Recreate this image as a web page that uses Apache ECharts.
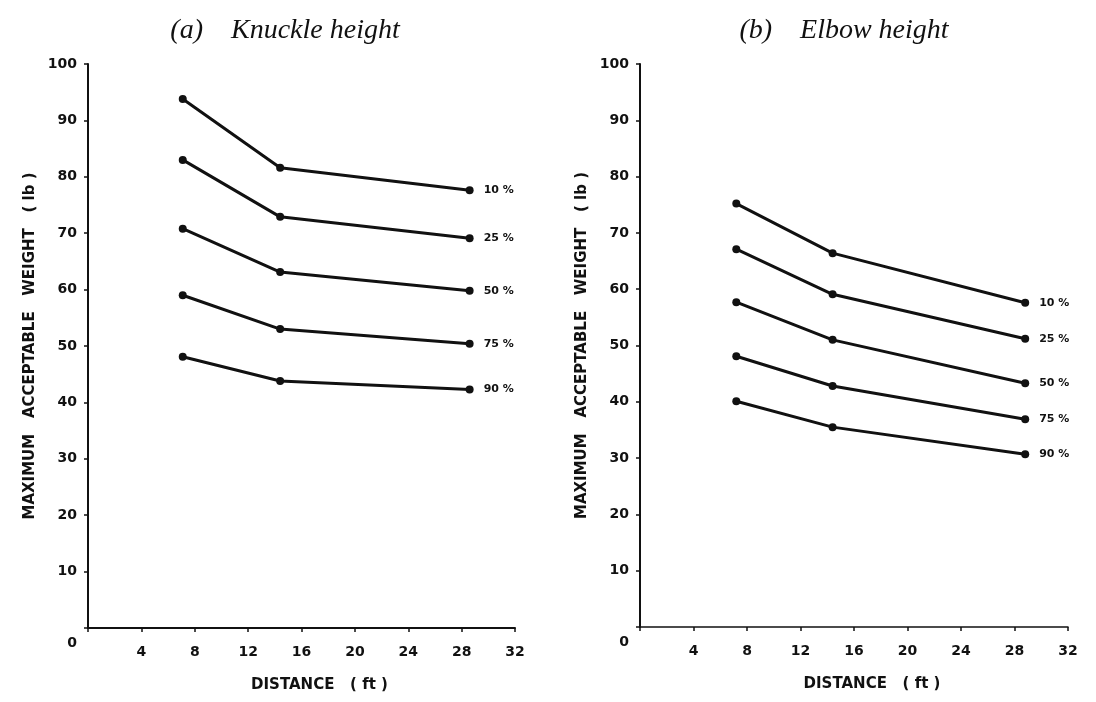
<!DOCTYPE html>
<html>
<head>
<meta charset="utf-8">
<title>Maximum acceptable weight</title>
<script src="https://cdn.jsdelivr.net/npm/echarts@6/dist/echarts.min.js"></script>
<style>
  html, body { margin: 0; padding: 0; background: #fff; }
  #chart { width: 1096px; height: 702px; }
</style>
</head>
<body>
<div id="chart"></div>
<script>
// percentile labels for each line
var percentiles = ['10 %', '25 %', '50 %', '75 %', '90 %'];

// carry distance (ft) of the three points
var distKnuckle = [7.1, 14.4, 28.6];
var distElbow = [7.2, 14.4, 28.8];

// (a) knuckle height, lb
var knuckle10 = [93.8, 81.6, 77.6];
var knuckle25 = [83.0, 72.9, 69.1];
var knuckle50 = [70.8, 63.1, 59.8];
var knuckle75 = [59.0, 53.0, 50.4];
var knuckle90 = [48.1, 43.8, 42.3];

// (b) elbow height, lb
var elbow10 = [75.2, 66.4, 57.6];
var elbow25 = [67.1, 59.1, 51.2];
var elbow50 = [57.7, 51.0, 43.3];
var elbow75 = [48.1, 42.8, 36.9];
var elbow90 = [40.1, 35.5, 30.7];

var xTicks = [0, 4, 8, 12, 16, 20, 24, 28, 32];
var yTicks = [0, 10, 20, 30, 40, 50, 60, 70, 80, 90, 100];

var font = 'DejaVu Sans';
var chart = echarts.init(document.getElementById('chart'), null, { renderer: 'canvas' });

function pairs(xs, ys) {
  return xs.map(function (x, i) { return [x, ys[i]]; });
}

function xAxisFor(idx) {
  return {
    type: 'value',
    gridIndex: idx,
    min: xTicks[0],
    max: xTicks[xTicks.length - 1],
    interval: 4,
    name: 'DISTANCE   ( ft )',
    nameLocation: 'middle',
    nameGap: 50,
    nameTextStyle: {
      fontFamily: font, fontWeight: 'bold', fontSize: 15, color: '#111',
      padding: [0, 0, 0, 36]
    },
    axisLine: { lineStyle: { color: '#111', width: idx == 0 ? 2 : 1.5 } },
    axisTick: { show: true, inside: false, length: 4, lineStyle: { color: '#111', width: 1.5 } },
    axisLabel: {
      margin: 17,
      fontFamily: font, fontWeight: 'bold', fontSize: 14, color: '#111',
      formatter: function (v) { return v === 0 ? '' : v; }
    },
    splitLine: { show: false }
  };
}

function yAxisFor(idx) {
  return {
    type: 'value',
    gridIndex: idx,
    min: yTicks[0],
    max: yTicks[yTicks.length - 1],
    interval: 10,
    name: 'MAXIMUM   ACCEPTABLE   WEIGHT   ( lb )',
    nameLocation: 'middle',
    nameGap: 50,
    nameTextStyle: { fontFamily: font, fontWeight: 'bold', fontSize: 15, color: '#111' },
    axisLine: { show: true, lineStyle: { color: '#111', width: 2 } },
    axisTick: { show: true, inside: false, length: 4, lineStyle: { color: '#111', width: 1.5 } },
    axisLabel: {
      margin: 11,
      fontFamily: font, fontWeight: 'bold', fontSize: 14, color: '#111',
      // the zero sits a bit below the axis line in the original
      formatter: function (v) { return v === 0 ? '{z|0}' : v; },
      rich: {
        z: { padding: [30, 0, 0, 0], fontFamily: font, fontWeight: 'bold', fontSize: 14, color: '#111' }
      }
    },
    splitLine: { show: false }
  };
}

function lineSeries(name, idx, xs, ys) {
  return {
    name: name,
    type: 'line',
    xAxisIndex: idx,
    yAxisIndex: idx,
    data: pairs(xs, ys),
    symbol: 'circle',
    symbolSize: 8,
    color: '#111',
    lineStyle: { color: '#111', width: 3 },
    itemStyle: { color: '#111' },
    endLabel: {
      show: true,
      formatter: '{a}',
      distance: 14,
      fontFamily: font, fontWeight: 'bold', fontSize: 11, color: '#111'
    },
    animation: false
  };
}

var knuckleSets = [knuckle10, knuckle25, knuckle50, knuckle75, knuckle90];
var elbowSets = [elbow10, elbow25, elbow50, elbow75, elbow90];

var series = [];
percentiles.forEach(function (p, i) {
  series.push(lineSeries(p, 0, distKnuckle, knuckleSets[i]));
});
percentiles.forEach(function (p, i) {
  series.push(lineSeries(p, 1, distElbow, elbowSets[i]));
});

var titleStyle = {
  fontFamily: 'Liberation Serif', fontStyle: 'italic', fontWeight: 'normal',
  fontSize: 28, color: '#111'
};

var option = {
  backgroundColor: '#fff',
  animation: false,
  title: [
    { text: '(a)    Knuckle height', left: 280, top: 12, textAlign: 'center', textStyle: titleStyle },
    { text: '(b)    Elbow height', left: 839, top: 12, textAlign: 'center', textStyle: titleStyle }
  ],
  grid: [
    { left: 88, right: 581, top: 64, bottom: 74 },
    { left: 640, right: 28, top: 64, bottom: 75 }
  ],
  xAxis: [xAxisFor(0), xAxisFor(1)],
  yAxis: [yAxisFor(0), yAxisFor(1)],
  series: series
};

chart.setOption(option);
</script>
</body>
</html>
